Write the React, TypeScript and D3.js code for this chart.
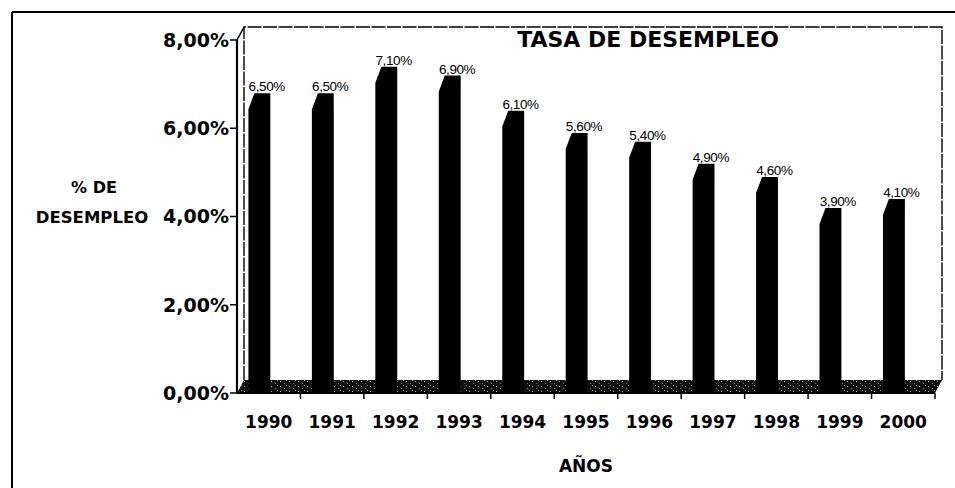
import * as d3 from "d3";

const years = ["1990", "1991", "1992", "1993", "1994", "1995", "1996", "1997", "1998", "1999", "2000"];
const rates = [0.065, 0.065, 0.071, 0.069, 0.061, 0.056, 0.054, 0.049, 0.046, 0.039, 0.041];
const rateLabels = ["6,50%", "6,50%", "7,10%", "6,90%", "6,10%", "5,60%", "5,40%", "4,90%", "4,60%", "3,90%", "4,10%"];
const yTicks = [0, 0.02, 0.04, 0.06, 0.08];

const W = 955;
const H = 488;
// depth offset of the 3D back plane
const DX = 7;
const DY = -13;

const comic = "'DejaVu Sans', sans-serif";

export default function App() {
  const x = d3.scaleBand<string>().domain(years).range([237, 935]).padding(0);
  const y = d3.scaleLinear().domain([0, 0.08]).range([393, 40]);
  const bw = x.bandwidth();
  const fmt = (v: number) => d3.format(".2f")(v * 100).replace(".", ",") + "%";

  const x0 = x.range()[0];
  const x1 = x.range()[1];
  const y0 = y(0);
  const yTop = y(0.08);

  const floor = [
    [x0, y0],
    [x1, y0],
    [x1 + DX, y0 + DY],
    [x0 + DX, y0 + DY],
  ];

  return (
    <svg width={W} height={H} style={{ position: "absolute", left: 0, top: 0, background: "#fff" }}>
      <defs>
        <pattern id="speck" width="9" height="5" patternUnits="userSpaceOnUse">
          <rect width="9" height="5" fill="#111" />
          <rect x="1" y="1" width="1" height="1" fill="#aaa" />
          <rect x="5" y="3" width="1" height="1" fill="#777" />
          <rect x="7" y="0" width="1" height="1" fill="#999" />
        </pattern>
      </defs>

      {/* outer frame */}
      <line x1={12} y1={12} x2={W} y2={12} stroke="#000" strokeWidth={2} />
      <line x1={12} y1={12} x2={12} y2={H} stroke="#000" strokeWidth={2} />

      {/* back walls of the plot */}
      <path
        d={`M${x0 + DX},${y0 + DY}V${yTop + DY}H${x1 + DX}V${y0 + DY}`}
        fill="none"
        stroke="#000"
        strokeWidth={1.4}
        strokeDasharray="14,1.5"
      />
      <line x1={x0} y1={yTop} x2={x0 + DX} y2={yTop + DY} stroke="#000" strokeWidth={1.5} />

      {/* floor */}
      <polygon points={floor.map((p) => p.join(",")).join(" ")} fill="url(#speck)" />

      {/* bars */}
      {rates.map((v, i) => {
        const c = x(years[i])!;
        const bl = c + bw * 0.18;
        const br = c + bw * 0.525;
        const yb = y(v) + DY;
        const yf = y(v) + 3;
        const pts = [
          [bl, y0],
          [bl, yf],
          [bl + 6, yb],
          [br, yb],
          [br, y0],
        ];
        return <polygon key={years[i]} points={pts.map((p) => p.join(",")).join(" ")} fill="#000" />;
      })}

      {/* value labels */}
      {rates.map((v, i) => (
        <text
          key={"l" + years[i]}
          x={x(years[i])! + bw / 2 - 2}
          y={y(v) + DY - 2}
          textAnchor="middle"
          fontFamily="'Liberation Sans', Arial, sans-serif"
          fontSize={13.5}
          letterSpacing={-0.4}
          fill="#000"
        >
          {rateLabels[i]}
        </text>
      ))}

      {/* y axis */}
      <line x1={x0} y1={yTop} x2={x0} y2={y0} stroke="#000" strokeWidth={2.2} />
      {yTicks.map((t) => (
        <g key={t}>
          <line x1={x0 - 7} y1={y(t)} x2={x0} y2={y(t)} stroke="#000" strokeWidth={1.5} />
          <text
            x={x0 - 8}
            y={y(t)}
            dy="0.36em"
            textAnchor="end"
            fontFamily={comic}
            fontWeight="bold"
            fontSize={19}
            fill="#000"
          >
            {fmt(t)}
          </text>
        </g>
      ))}

      {/* x axis */}
      <line x1={x0} y1={y0} x2={x1} y2={y0} stroke="#000" strokeWidth={2} />
      {years.map((yr) => (
        <line key={"t" + yr} x1={x(yr)! + bw} y1={y0} x2={x(yr)! + bw} y2={y0 + 6} stroke="#000" strokeWidth={1.5} />
      ))}
      {years.map((yr) => (
        <text
          key={"x" + yr}
          x={x(yr)! + bw / 2}
          y={428}
          textAnchor="middle"
          fontFamily={comic}
          fontWeight="bold"
          fontSize={17}
          fill="#000"
        >
          {yr}
        </text>
      ))}

      {/* titles */}
      <text x={648} y={47} textAnchor="middle" fontFamily={comic} fontWeight="bold" fontSize={22} fill="#000">
        TASA DE DESEMPLEO
      </text>
      <text x={94} y={193} textAnchor="middle" fontFamily={comic} fontWeight="bold" fontSize={16} fill="#000">
        % DE
      </text>
      <text x={92} y={223} textAnchor="middle" fontFamily={comic} fontWeight="bold" fontSize={16.5} fill="#000">
        DESEMPLEO
      </text>
      <text x={586} y={472} textAnchor="middle" fontFamily={comic} fontWeight="bold" fontSize={17} fill="#000">
        AÑOS
      </text>
    </svg>
  );
}
